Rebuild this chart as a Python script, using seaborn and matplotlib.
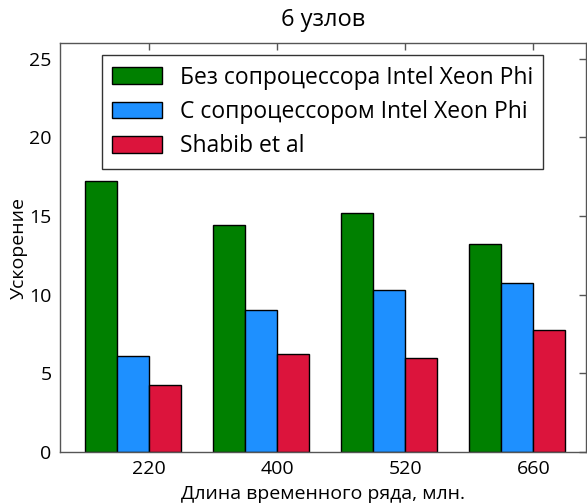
import matplotlib
matplotlib.use("Agg")
import matplotlib.pyplot as plt
import seaborn as sns
import pandas as pd
import numpy as np

lengths = ["220", "400", "520", "660"]
series = ["Без сопроцессора Intel Xeon Phi", "С сопроцессором Intel Xeon Phi", "Shabib et al"]
no_phi = [17.2, 14.45, 15.2, 13.25]
with_phi = [6.1, 9.05, 10.3, 10.75]
shabib = [4.25, 6.2, 6.0, 7.75]
colors = ["#008000", "#1E90FF", "#DC143C"]

df = pd.DataFrame({
    "length": lengths * 3,
    "series": [series[0]] * 4 + [series[1]] * 4 + [series[2]] * 4,
    "speedup": no_phi + with_phi + shabib,
})

sns.set_style("white")
plt.rcParams["font.family"] = ["Open Sans", "DejaVu Sans"]
plt.rcParams["text.color"] = "black"
plt.rcParams["axes.labelcolor"] = "black"

fig = plt.figure(figsize=(5.87, 5.03), dpi=100)
ax = fig.add_axes([0.102, 0.1014, 0.896, 0.8131])
sns.barplot(data=df, x="length", y="speedup", hue="series", hue_order=series,
            palette=colors, width=0.75, edgecolor="black", linewidth=1.0,
            saturation=1, errorbar=None, ax=ax)

ax.set_xlim(-0.57, 3.535)
ax.set_ylim(0, 26)
ax.set_yticks([0, 5, 10, 15, 20, 25])
ax.set_xticks(np.arange(len(lengths)) + 0.125)
ax.set_xticklabels(lengths)
ax.tick_params(direction="in", length=5, width=1, color="#555555", labelcolor="black",
               labelsize=14, top=True, right=True, pad=6)
for s in ax.spines.values():
    s.set_visible(True)
    s.set_color("#555555")
    s.set_linewidth(1)

ax.set_xlabel("Длина временного ряда, млн.", fontsize=14, labelpad=5)
ax.set_ylabel("Ускорение", fontsize=14, labelpad=1)
ax.set_title("6 узлов", fontsize=17, pad=12)

leg = ax.legend(loc="upper left", bbox_to_anchor=(0.08, 0.97), borderaxespad=0,
                fontsize=16.5, frameon=True, fancybox=False, handlelength=2.15,
                handleheight=0.75, labelspacing=0.45, borderpad=0.45, handletextpad=0.8)
leg.get_frame().set_edgecolor("black")
leg.get_frame().set_linewidth(1)

fig.savefig("out.png", dpi=100, facecolor="white")
